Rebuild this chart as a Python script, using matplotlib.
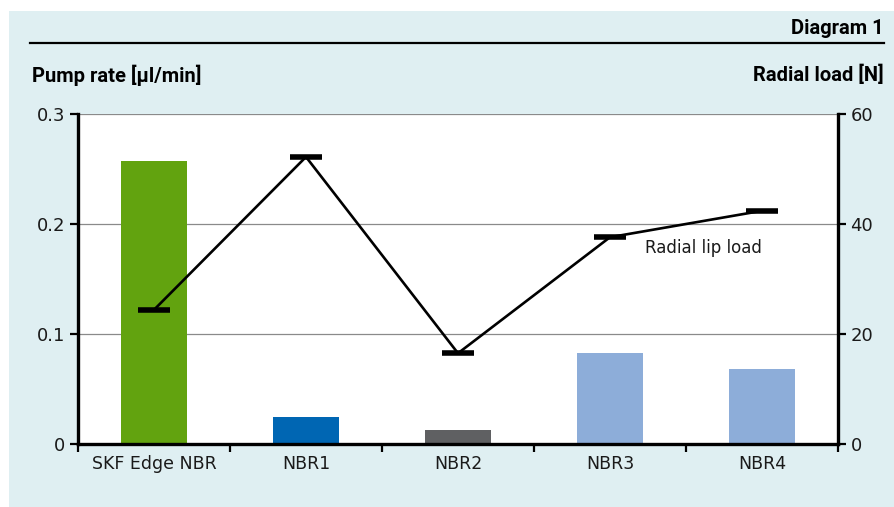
import matplotlib
matplotlib.use("Agg")
import matplotlib.pyplot as plt
from matplotlib.patches import Rectangle

# data
materials = ["SKF Edge NBR", "NBR1", "NBR2", "NBR3", "NBR4"]
pump_rate = [0.257, 0.0245, 0.0127, 0.0827, 0.068]
radial_load = [24.4, 52.2, 16.5, 37.6, 42.4]
bar_colors = ["#62a30f", "#0066b3", "#5f6062", "#8dadd9", "#8dadd9"]
left_ticks = [0, 0.1, 0.2, 0.3]
left_labels = ["0", "0.1", "0.2", "0.3"]
right_ticks = [0, 20, 40, 60]

bg = "#dfeff2"
head_font = ["Roboto", "DejaVu Sans"]
tick_font = ["DejaVu Sans"]

fig = plt.figure(figsize=(8.94, 5.07), dpi=100)
fig.patch.set_facecolor("white")
fig.patches.append(Rectangle((9 / 894, 0), 1 - 9 / 894, 1 - 11 / 507,
                             transform=fig.transFigure, facecolor=bg,
                             edgecolor="none", zorder=-10))

# header
fig.text(884 / 894, 1 - 29 / 507, "Diagram 1", ha="right", va="center",
         fontsize=14.5, fontweight="bold", family=head_font)
fig.lines.append(plt.Line2D([30 / 894, 884 / 894], [1 - 43 / 507, 1 - 43 / 507],
                            transform=fig.transFigure, color="black", lw=1.6))
fig.text(32 / 894, 1 - 75 / 507, "Pump rate [µl/min]", ha="left", va="center",
         fontsize=14.5, fontweight="bold", family=head_font)
fig.text(884 / 894, 1 - 75 / 507, "Radial load [N]", ha="right", va="center",
         fontsize=14.5, fontweight="bold", family=head_font)

ax = fig.add_axes([78 / 894, 63 / 507, 760 / 894, 330 / 507])
ax.set_facecolor("white")
x = list(range(len(materials)))
ax.bar(x, pump_rate, width=0.43, color=bar_colors, zorder=2)
ax.set_xlim(-0.5, len(materials) - 0.5)
ax.set_ylim(0, 0.3)
ax.set_yticks(left_ticks)
ax.set_yticklabels(left_labels, family=tick_font, fontsize=13, color="#1a1a1a")
ax.yaxis.grid(True, color="#8a8a8a", lw=0.9, zorder=0)
ax.set_axisbelow(True)

# category labels centred, ticks at boundaries
ax.set_xticks([i - 0.5 for i in range(len(materials) + 1)])
ax.set_xticklabels([])
ax.set_xticks(x, minor=True)
ax.set_xticklabels(materials, minor=True, family=tick_font, fontsize=12.5,
                   color="#1a1a1a")
ax.tick_params(axis="x", which="minor", length=0, pad=8)
ax.tick_params(axis="x", which="major", length=6, width=1.6, direction="out")
ax.tick_params(axis="y", length=6, width=1.6, direction="out", pad=3)

for side in ["top", "right"]:
    ax.spines[side].set_visible(False)
for side in ["left", "bottom"]:
    ax.spines[side].set_linewidth(2.4)

ax2 = ax.twinx()
ax2.plot(x, radial_load, color="black", lw=1.9, marker="_", markersize=23,
         markeredgewidth=4, zorder=3)
ax2.set_ylim(0, 60)
ax2.set_yticks(right_ticks)
ax2.set_yticklabels([str(t) for t in right_ticks], family=tick_font,
                    fontsize=13, color="#1a1a1a")
ax2.tick_params(axis="y", length=6, width=1.6, direction="out", pad=3)
for side in ["top", "left", "bottom"]:
    ax2.spines[side].set_visible(False)
ax2.spines["right"].set_linewidth(2.4)
ax2.text(3.23, 35.6, "Radial lip load", ha="left", va="center",
         family=tick_font, fontsize=12, color="#1a1a1a")

fig.savefig("out.png", dpi=100)
